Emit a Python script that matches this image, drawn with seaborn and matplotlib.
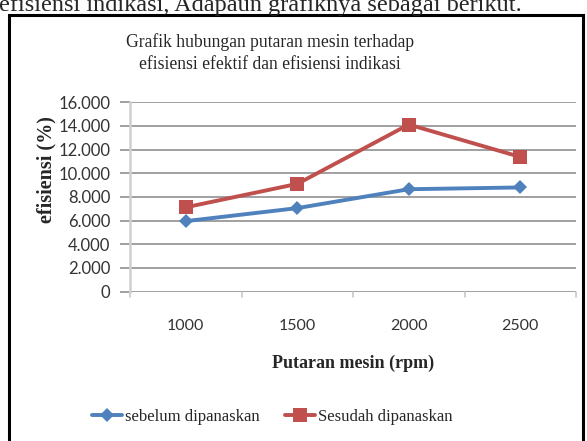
import matplotlib
matplotlib.use("Agg")
import matplotlib.pyplot as plt
import matplotlib.patches as patches
from matplotlib.ticker import FixedLocator, FuncFormatter
import pandas as pd
import seaborn as sns

rpm = ["1000", "1500", "2000", "2500"]
sebelum = [5.95, 7.05, 8.65, 8.80]
sesudah = [7.12, 9.10, 14.12, 11.38]
series_names = ["sebelum dipanaskan", "Sesudah dipanaskan"]
y_ticks = [0, 2, 4, 6, 8, 10, 12, 14, 16]

BLUE = "#4F81BD"
RED = "#C0504D"
GRID = "#868686"
SERIF = "Liberation Serif"
SANS = "Lato"

df = pd.DataFrame({
    "rpm": rpm * 2,
    "efisiensi": sebelum + sesudah,
    "seri": [series_names[0]] * len(rpm) + [series_names[1]] * len(rpm),
})

sns.set_style("white")
plt.rcParams["font.family"] = [SERIF, "DejaVu Serif"]

W, H = 587, 441
fig = plt.figure(figsize=(W / 100, H / 100), dpi=100)
ax = fig.add_axes([130 / W, 1 - 291.5 / H, (576 - 130) / W, (291.5 - 102.3) / H])

sns.lineplot(
    data=df, x="rpm", y="efisiensi", hue="seri", style="seri",
    palette={series_names[0]: BLUE, series_names[1]: RED},
    markers={series_names[0]: "D", series_names[1]: "s"},
    dashes=False, linewidth=2.8, markeredgewidth=0, ax=ax,
    sort=False,
)
for line in ax.lines:
    if line.get_marker() == "D":
        line.set_markersize(7.5)
    elif line.get_marker() == "s":
        line.set_markersize(9.5)

ax.set_xlim(-0.5, 3.5)
ax.set_ylim(0, 16)
ax.yaxis.set_major_locator(FixedLocator(y_ticks))
ax.yaxis.set_major_formatter(FuncFormatter(lambda v, p: "0" if v == 0 else f"{v:.3f}"))
ax.grid(axis="y", color=GRID, linewidth=1.1)
ax.set_axisbelow(True)

for side in ["top", "right", "bottom"]:
    ax.spines[side].set_visible(False)
ax.spines["left"].set_color("#D0D0D0")
ax.spines["left"].set_linewidth(1.8)

ax.tick_params(axis="y", length=7, color=GRID, width=1.1, pad=7, labelsize=12,
               left=True)
ax.tick_params(axis="x", length=0, pad=20, labelsize=11.5)
for lbl in ax.get_yticklabels() + ax.get_xticklabels():
    lbl.set_fontfamily(SANS)
    lbl.set_color("#333333")

# category boundary marks under the baseline
for b in [-0.5, 0.5, 1.5, 2.5, 3.5]:
    ax.plot([b, b], [0, -0.45], color="#C8C8C8", linewidth=1.2, clip_on=False)

ax.set_xlabel("")
ax.set_ylabel("")
fig.text(353 / W, 1 - 363 / H, "Putaran mesin (rpm)", ha="center", va="center",
         fontsize=13, fontweight="bold", family=SERIF)
fig.text(46 / W, 1 - 170 / H, "efisiensi (%)", ha="center", va="center",
         rotation=90, fontsize=14.5, fontweight="bold", family=SERIF)

fig.text(270 / W, 1 - 53 / H,
         "Grafik hubungan putaran mesin terhadap\nefisiensi efektif dan efisiensi indikasi",
         ha="center", va="center", fontsize=12.7, linespacing=1.45, family=SERIF)

handles, labels = ax.get_legend_handles_labels()
ax.legend(handles=handles, labels=labels, loc="center", ncol=2, frameon=False,
          bbox_to_anchor=(272 / W, 1 - 417 / H), bbox_transform=fig.transFigure,
          prop={"family": SERIF, "size": 12}, handlelength=1.8, handletextpad=0.2,
          columnspacing=1.5, borderaxespad=0)

# document text above the framed chart
fig.text(-1 / W, 1 - 11 / H, "efisiensi indikasi, Adapaun grafiknya sebagai berikut.",
         ha="left", va="baseline", fontsize=17.5, family=SERIF)

frame = patches.Rectangle((8.5 / W, -0.02), (582.5 - 8.5) / W, 1.02 - 15 / H,
                          transform=fig.transFigure, fill=False,
                          edgecolor="black", linewidth=2.2, clip_on=False)
fig.patches.append(frame)

fig.savefig("out.png", dpi=100)
